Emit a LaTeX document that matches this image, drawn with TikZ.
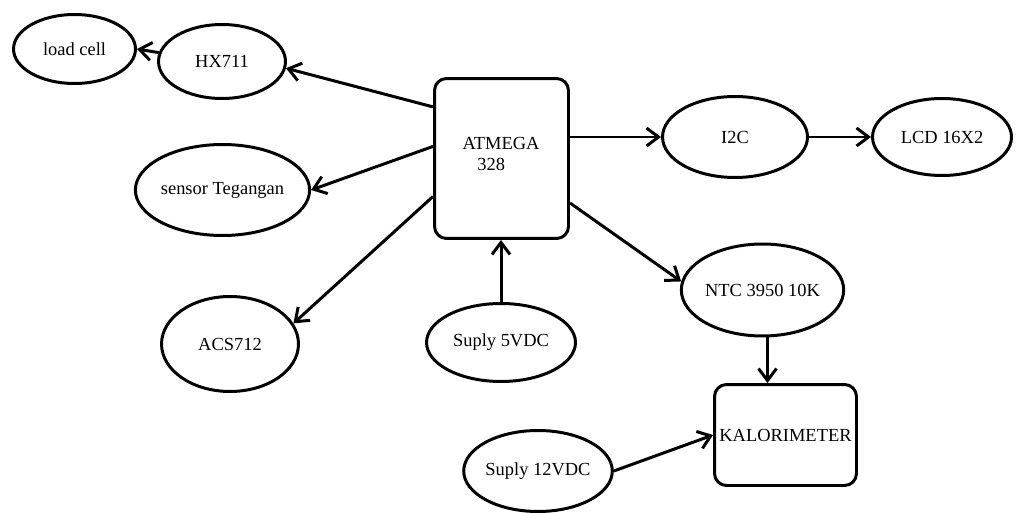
\documentclass[tikz,border=0pt]{standalone}
\usepackage{fontspec}
\setmainfont{Liberation Serif}
\usetikzlibrary{arrows.meta,shapes.geometric}

\begin{document}
\begin{tikzpicture}[x=0.02cm,y=-0.02cm,
  line width=1.7pt,
  >={Straight Barb[length=2.4mm,width=3.6mm]},
  every node/.style={font=\fontsize{10.5}{12}\selectfont,inner sep=0pt},
  blok/.style={ellipse,draw},
  kotak/.style={rectangle,draw,rounded corners=0.24cm}]

\useasboundingbox (0,0) rectangle (1020,513);

% modul di kiri
\node[blok,minimum width=2.44cm,minimum height=1.38cm] (loadcell) at (74.5,49) {load cell};
\node[blok,minimum width=2.54cm,minimum height=1.48cm] (hx) at (222,61.5) {HX711};
\node[blok,minimum width=2.56cm,minimum height=1.82cm] (sensor) at (222.5,190) {sensor Tegangan};
\node[blok,minimum width=2.74cm,minimum height=1.9cm] (acs) at (230,344) {ACS712};

% mikrokontroler
\node[kotak,minimum width=2.68cm,minimum height=3.2cm] (atmega) at (501.5,158.5) {};
\node[align=left] (atmegatxt) at (501,154) {ATMEGA\\\hspace*{0.8em}328};
\node[blok,minimum width=2.98cm,minimum height=1.56cm] (s5) at (501,342.5) {Suply 5VDC};

% modul di kanan
\node[blok,minimum width=2.9cm,minimum height=1.62cm] (i2c) at (735,137) {I2C};
\node[blok,minimum width=2.78cm,minimum height=1.54cm] (lcd) at (942,137) {LCD 16X2};
\node[blok,minimum width=2.72cm,minimum height=1.84cm] (ntc) at (762.5,290) {NTC 3950 10K};
\node[kotak,minimum width=2.84cm,minimum height=2.02cm] (kal) at (785.5,435) {KALORIMETER};
\node[blok,minimum width=2.94cm,minimum height=1.62cm] (s12) at (538,471) {Suply 12VDC};

% panah
\draw[->] (hx.172) -- (loadcell.east);
\draw[->] (atmega.143) -- (hx.-6);
\draw[->] (atmega.170.5) -- (sensor.east);
\draw[->] (atmega.209) -- (acs.18);
\draw[->] (atmega.east |- i2c.west) -- (i2c.west);
\draw[->] (i2c.east) -- (lcd.west);
\draw[->] (atmega.-33) -- (ntc.174);
\draw[->] (s5.north) -- (s5.north |- atmega.south);
\draw[->] (ntc.-84) -- (ntc.-84 |- kal.north);
\draw[->] (s12.east) -- (kal.west);

\end{tikzpicture}
\end{document}
